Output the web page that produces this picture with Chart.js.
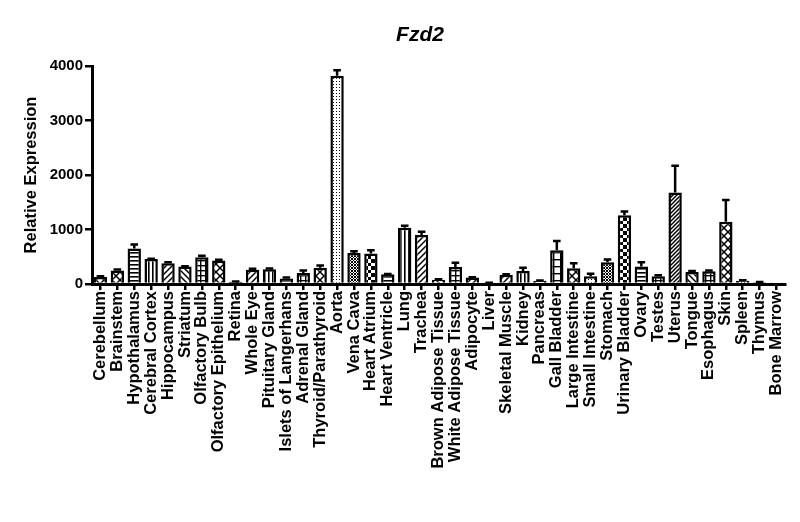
<!DOCTYPE html>
<html><head><meta charset="utf-8">
<script src="https://cdn.jsdelivr.net/npm/chart.js@4.4.1/dist/chart.umd.min.js"></script>
<style>html,body{margin:0;padding:0;background:#fff}</style>
</head><body>
<canvas id="c" width="800" height="522" style="width:800px;height:522px;display:block"></canvas>
<script>
const chartTitle = 'Fzd2';
const yAxisTitle = 'Relative Expression';
const categories = ['Cerebellum','Brainstem','Hypothalamus','Cerebral Cortex','Hippocampus','Striatum','Olfactory Bulb','Olfactory Epithelium','Retina','Whole Eye','Pituitary Gland','Islets of Langerhans','Adrenal Gland','Thyroid/Parathyroid','Aorta','Vena Cava','Heart Atrium','Heart Ventricle','Lung','Trachea','Brown Adipose Tissue','White Adipose Tissue','Adipocyte','Liver','Skeletal Muscle','Kidney','Pancreas','Gall Bladder','Large Intestine','Small Intestine','Stomach','Urinary Bladder','Ovary','Testes','Uterus','Tongue','Esophagus','Skin','Spleen','Thymus','Bone Marrow'];
const meanValues = [130,250,650,460,380,320,490,430,40,260,270,100,200,300,3820,570,560,180,1030,900,80,310,120,20,170,240,60,620,290,140,400,1260,320,140,1680,220,235,1140,60,30,15];
const errorValues = [10,15,75,5,20,5,30,15,5,20,15,20,50,40,100,30,60,5,40,60,5,80,5,5,10,60,5,170,90,50,50,70,80,20,490,20,15,400,10,5,0];
const yTicks = [0,1000,2000,3000,4000];
// fill style per bar (visual only)
const patternKinds = ['cross','cross','hlines','vlines','diag','anti','grid','zig','dots','diag','vlines','hlines','grid','cross','dots','fchecker','checker','hlines','vlines','diag','anti','grid','diag','dots','diag','vlines','hlines','bgrid','cross','dots','fchecker','checker','hlines','grid','fdiag','anti','grid','zig','dots','dots','dots'];

const mainCtx = document.getElementById('c').getContext('2d');
function makePattern(kind){
  const sizes = {hlines:4, vlines:4, diag:6, anti:6, fdiag:4, grid:5, bgrid:7, dots:3, checker:7, fchecker:3, cross:8, zig:8};
  const n = sizes[kind] || 6;
  const s = document.createElement('canvas'); s.width = n; s.height = n;
  const g = s.getContext('2d');
  g.fillStyle = '#fff'; g.fillRect(0,0,n,n);
  g.fillStyle = '#000'; g.strokeStyle = '#000'; g.lineWidth = 1.5;
  const slash = () => { g.beginPath(); g.moveTo(0,n); g.lineTo(n,0); g.moveTo(-2,2); g.lineTo(2,-2); g.moveTo(n-2,n+2); g.lineTo(n+2,n-2); g.stroke(); };
  const back = () => { g.beginPath(); g.moveTo(0,0); g.lineTo(n,n); g.moveTo(-2,n-2); g.lineTo(2,n+2); g.moveTo(n-2,-2); g.lineTo(n+2,2); g.stroke(); };
  switch(kind){
    case 'hlines': g.fillRect(0,0,n,1.6); break;
    case 'vlines': g.fillRect(0,0,1.6,n); break;
    case 'diag': case 'fdiag': slash(); break;
    case 'anti': back(); break;
    case 'grid': case 'bgrid': g.fillRect(0,0,n,1.4); g.fillRect(0,0,1.4,n); break;
    case 'dots': g.fillRect(0,0,1,1); break;
    case 'checker': case 'fchecker': g.fillRect(0,0,Math.ceil(n/2),Math.ceil(n/2)); g.fillRect(Math.ceil(n/2),Math.ceil(n/2),n,n); break;
    case 'cross': case 'zig': slash(); back(); break;
  }
  return mainCtx.createPattern(s,'repeat');
}
const barFills = patternKinds.map(makePattern);

const errorBars = {
  id:'errorBars',
  afterDatasetsDraw(chart){
    const {ctx, scales:{x,y}} = chart;
    ctx.save(); ctx.strokeStyle = '#000'; ctx.lineWidth = 2.5;
    meanValues.forEach((v,i) => {
      const e = errorValues[i]; if (!e) return;
      const px = x.getPixelForValue(i);
      const top = y.getPixelForValue(v + e), base = y.getPixelForValue(v);
      ctx.beginPath(); ctx.moveTo(px, base); ctx.lineTo(px, top);
      ctx.moveTo(px - 3.8, top); ctx.lineTo(px + 3.8, top); ctx.stroke();
    });
    ctx.restore();
  }
};
const titlePlugin = {
  id:'customTitle',
  afterDraw(chart){
    const ctx = chart.ctx; ctx.save();
    ctx.font = 'italic bold 21px "Liberation Sans", Arial, sans-serif';
    ctx.fillStyle = '#000'; ctx.textAlign = 'center'; ctx.textBaseline = 'alphabetic';
    ctx.fillText(chartTitle, 420, 41);
    ctx.restore();
  }
};

new Chart(mainCtx, {
  type:'bar',
  data:{ labels: categories, datasets:[{ data: meanValues, backgroundColor: barFills, borderColor:'#000', borderWidth:2.5, borderSkipped:'bottom', barPercentage:0.79, categoryPercentage:1 }] },
  options:{
    responsive:false, animation:false, devicePixelRatio:1,
    layout:{ padding:{ top:66, right:15, left:0, bottom:0 } },
    plugins:{ legend:{display:false}, tooltip:{enabled:false}, title:{display:false} },
    scales:{
      x:{
        type:'category', offset:true,
        grid:{ display:true, drawOnChartArea:false, drawTicks:true, tickLength:6, color:'#000', lineWidth:2.5, offset:false },
        border:{ display:true, color:'#000', width:3 },
        ticks:{ autoSkip:false, maxRotation:90, minRotation:90, padding:1, color:'#000', font:{ family:'"Liberation Sans", Arial, sans-serif', size:16.5, weight:'bold' } },
        afterFit(s){ s.height = 238; }
      },
      y:{
        min:0, max:4000,
        afterBuildTicks(s){ s.ticks = yTicks.map(v => ({value:v})); },
        grid:{ display:true, drawOnChartArea:false, drawTicks:true, tickLength:7, color:'#000', lineWidth:2.5 },
        border:{ display:true, color:'#000', width:3 },
        ticks:{ padding:2, color:'#000', callback:(v) => String(v), font:{ family:'"Liberation Sans", Arial, sans-serif', size:15, weight:'bold' } },
        title:{ display:true, text:yAxisTitle, color:'#000', padding:{top:22, bottom:0}, font:{ family:'"Liberation Sans", Arial, sans-serif', size:16.5, weight:'bold' } },
        afterFit(s){ s.width = 92; }
      }
    }
  },
  plugins:[errorBars, titlePlugin]
});
</script>
</body></html>
